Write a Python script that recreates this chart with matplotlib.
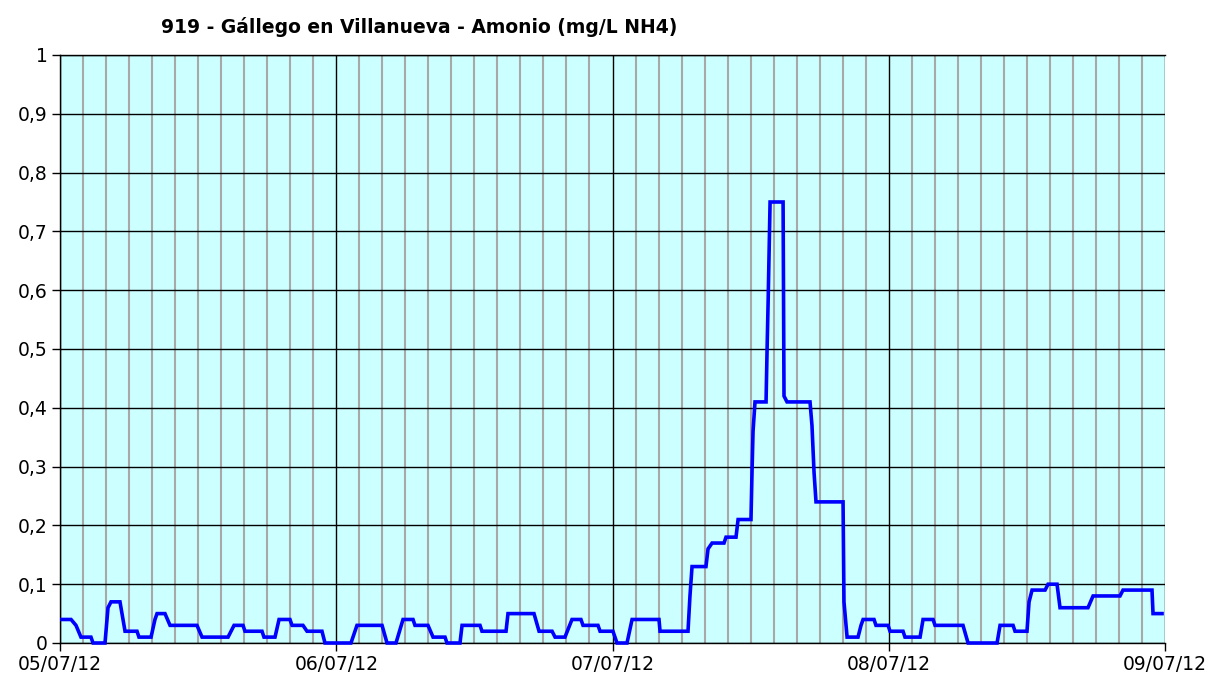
import matplotlib
matplotlib.use("Agg")
import matplotlib.pyplot as plt
import numpy as np

# Hours since 05/07/12 00:00 and ammonium concentration (mg/L NH4)
hours = [0.17, 0.96, 1.39, 1.82, 2.69, 2.87, 3.91, 4.17, 4.43, 5.21, 5.65, 6.69, 6.86, 7.91,
         8.25, 8.43, 9.12, 9.56, 11.90, 12.34, 14.60, 15.12, 15.90, 16.07, 17.55, 17.72,
         18.68, 19.03, 19.98, 20.16, 21.11, 21.46, 22.76, 23.02,
         25.28, 25.80, 27.98, 28.41, 29.19, 29.80, 30.67, 30.84, 31.97, 32.41, 33.45, 33.62,
         34.75, 34.93, 36.49, 36.66, 38.75, 38.92, 41.18, 41.62, 42.75, 43.01, 43.87, 44.48,
         45.26, 45.44, 46.74, 46.92, 48.04, 48.39,
         49.26, 49.70, 52.04, 52.13, 54.56, 54.73, 54.91, 56.12, 56.30, 56.65, 57.69, 57.86,
         58.73, 58.91, 60.03, 60.12, 60.21, 60.38, 61.34, 61.43, 61.52, 61.60, 61.69, 62.82,
         62.90, 63.16, 65.16, 65.33, 65.51, 65.68, 68.03, 68.11, 68.38, 69.33, 69.59, 69.77,
         70.72, 70.89, 71.94, 72.11,
         73.24, 73.41, 74.72, 74.98, 75.85, 76.02, 78.45, 78.89, 81.41, 81.67, 82.80, 82.97,
         84.01, 84.19, 84.45, 85.58, 85.84, 86.62, 86.88, 89.31, 89.75, 92.09, 92.35, 94.87,
         94.96, 95.74]
values = [0.04, 0.04, 0.03, 0.01, 0.01, 0.0, 0.0, 0.06, 0.07, 0.07, 0.02, 0.02, 0.01, 0.01,
          0.04, 0.05, 0.05, 0.03, 0.03, 0.01, 0.01, 0.03, 0.03, 0.02, 0.02, 0.01,
          0.01, 0.04, 0.04, 0.03, 0.03, 0.02, 0.02, 0.0,
          0.0, 0.03, 0.03, 0.0, 0.0, 0.04, 0.04, 0.03, 0.03, 0.01, 0.01, 0.0,
          0.0, 0.03, 0.03, 0.02, 0.02, 0.05, 0.05, 0.02, 0.02, 0.01, 0.01, 0.04,
          0.04, 0.03, 0.03, 0.02, 0.02, 0.0,
          0.0, 0.04, 0.04, 0.02, 0.02, 0.08, 0.13, 0.13, 0.16, 0.17, 0.17, 0.18,
          0.18, 0.21, 0.21, 0.29, 0.36, 0.41, 0.41, 0.50, 0.58, 0.66, 0.75, 0.75,
          0.42, 0.41, 0.41, 0.37, 0.29, 0.24, 0.24, 0.07, 0.01, 0.01, 0.03, 0.04,
          0.04, 0.03, 0.03, 0.02,
          0.02, 0.01, 0.01, 0.04, 0.04, 0.03, 0.03, 0.0, 0.0, 0.03, 0.03, 0.02,
          0.02, 0.07, 0.09, 0.09, 0.10, 0.10, 0.06, 0.06, 0.08, 0.08, 0.09, 0.09,
          0.05, 0.05]

x_tick_labels = ["05/07/12", "06/07/12", "07/07/12", "08/07/12", "09/07/12"]
y_ticks = [0, 0.1, 0.2, 0.3, 0.4, 0.5, 0.6, 0.7, 0.8, 0.9, 1.0]
y_tick_labels = ["0", "0,1", "0,2", "0,3", "0,4", "0,5", "0,6", "0,7", "0,8", "0,9", "1"]
title = "919 - Gállego en Villanueva - Amonio (mg/L NH4)"

W, H = 1211, 678
fig = plt.figure(figsize=(W / 100, H / 100), dpi=100)
fig.patch.set_facecolor("white")
x0, x1, ytop, ybot = 60, 1165, 55, 643
ax = fig.add_axes([x0 / W, (H - ybot) / H, (x1 - x0) / W, (ybot - ytop) / H])
ax.set_facecolor("#CCFFFF")

ax.set_xlim(0, 96)
ax.set_ylim(0, 1)

major_x = [0, 24, 48, 72, 96]
minor_x = [h for h in range(2, 96, 2) if h % 24 != 0]
ax.set_xticks(major_x)
ax.set_xticklabels(x_tick_labels)
ax.set_xticks(minor_x, minor=True)
ax.set_yticks(y_ticks)
ax.set_yticklabels(y_tick_labels)

ax.grid(True, which="minor", axis="x", color="#A8A8A8", linewidth=1.5, zorder=0)
ax.grid(True, which="major", axis="x", color="black", linewidth=1.0, zorder=0)
ax.grid(True, which="major", axis="y", color="black", linewidth=1.0, zorder=0)
ax.set_axisbelow(True)

ax.tick_params(axis="x", which="minor", length=0)
ax.tick_params(axis="both", which="major", direction="out", length=6, width=1,
               color="black", labelsize=13.5, pad=3)

for s in ["left", "bottom", "top"]:
    ax.spines[s].set_color("black")
    ax.spines[s].set_linewidth(1.0)
ax.spines["right"].set_visible(False)

ax.plot(hours, values, color="#0000FF", linewidth=2.6, solid_joinstyle="miter", zorder=3,
        clip_on=False)

fig.text(419 / W, (H - 27) / H, title, ha="center", va="center",
         fontsize=13.5, fontweight="bold", color="black")

fig.savefig("out.png", dpi=100, facecolor="white")
